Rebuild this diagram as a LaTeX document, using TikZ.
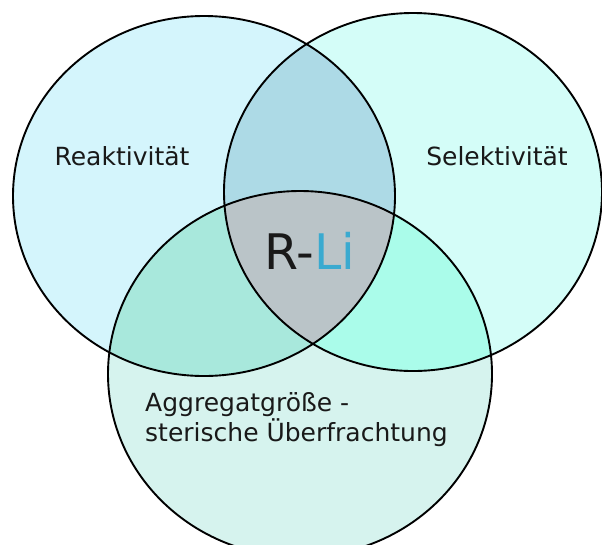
\documentclass[tikz,border=0pt]{standalone}
\usepackage{fontspec}
\setmainfont{DejaVu Sans}
\definecolor{cL}{HTML}{D4F5FC}
\definecolor{cR}{HTML}{D4FDF8}
\definecolor{cB}{HTML}{D6F3EE}
\definecolor{cLR}{HTML}{ADDAE6}
\definecolor{cLB}{HTML}{A8E8DC}
\definecolor{cRB}{HTML}{AAFCEA}
\definecolor{cC}{HTML}{BAC4C8}
\definecolor{liblue}{HTML}{3AAAD0}
\tikzset{
  ring/.style={draw=black, line width=1.9pt},
  lbl/.style={font=\fontsize{25}{30}\selectfont, text=black!90, inner sep=0pt, anchor=base},
}
\def\pL{(204,196) ellipse [x radius=191pt, y radius=180pt]}
\def\pR{(413,192) ellipse [x radius=189pt, y radius=179pt]}
\def\pB{(300,374) ellipse [x radius=192pt, y radius=183pt]}
\begin{document}
\begin{tikzpicture}[x=1pt, y=-1pt]
\useasboundingbox (0,0) rectangle (602,544);
\fill[white] (0,0) rectangle (602,544);
\fill[cL] \pL;
\fill[cR] \pR;
\fill[cB] \pB;
\begin{scope}
  \clip \pL;
  \fill[cLR] \pR;
  \fill[cLB] \pB;
\end{scope}
\begin{scope}
  \clip \pR;
  \fill[cRB] \pB;
  \clip \pL;
  \fill[cC] \pB;
\end{scope}
\draw[ring] \pL;
\draw[ring] \pR;
\draw[ring] \pB;
\node[lbl] (reak) at (122,165) {Reaktivität};
\node[lbl] (sel) at (497,165) {Selektivität};
\node[lbl, font=\fontsize{49}{55}\selectfont] (rli) at (310,269) {R-\textcolor{liblue}{Li}};
\node[lbl, anchor=base west] (agg) at (145,411) {Aggregatgröße -};
\node[lbl, anchor=base west] (ster) at (145,441) {sterische Überfrachtung};
\end{tikzpicture}
\end{document}
